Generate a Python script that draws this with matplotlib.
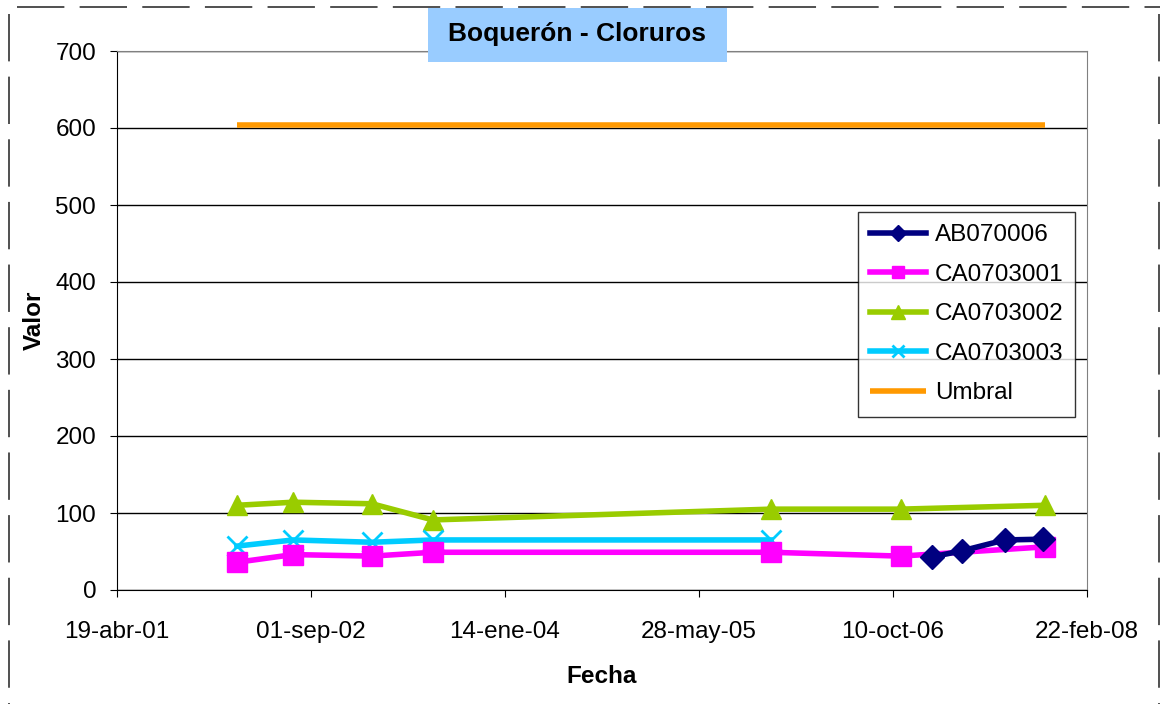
import pandas as pd
import matplotlib.pyplot as plt
from matplotlib.patches import Rectangle
from matplotlib.lines import Line2D

plt.rcParams['font.family'] = ['Liberation Sans', 'DejaVu Sans']

# fechas y valores
fechas_ab = ['2007-01-18', '2007-04-07', '2007-07-25', '2007-10-31']
valores_ab = [43, 51, 65, 66]

fechas_ca1 = ['2002-02-22', '2002-07-17', '2003-02-05', '2003-07-12', '2005-11-29', '2006-10-30', '2007-11-05']
valores_ca1 = [36, 46, 44, 49, 49, 44, 56]

fechas_ca2 = ['2002-02-22', '2002-07-17', '2003-02-05', '2003-07-12', '2005-11-29', '2006-10-30', '2007-11-05']
valores_ca2 = [110, 114, 112, 91, 105, 105, 110]

fechas_ca3 = ['2002-02-22', '2002-07-17', '2003-02-05', '2003-07-12', '2005-11-29']
valores_ca3 = [57, 65, 62, 65, 65]

fechas_umbral = ['2002-02-22', '2007-11-05']
valores_umbral = [604, 604]

tick_fechas = ['2001-04-19', '2002-09-01', '2004-01-14', '2005-05-28', '2006-10-10', '2008-02-22']
tick_labels = ['19-abr-01', '01-sep-02', '14-ene-04', '28-may-05', '10-oct-06', '22-feb-08']

W, H = 1162, 704
fig = plt.figure(figsize=(W / 100, H / 100), dpi=100)
ax = fig.add_axes([117 / W, 1 - 590 / H, 970 / W, 539 / H])

# borde discontinuo exterior (solo arriba, izquierda y derecha)
dash = (0, (31, 10))
for xs, ys in [([17, 1160], [7, 7]), ([9, 9], [14, 704]), ([1159, 1159], [14, 704])]:
    fig.lines.append(Line2D([x / W for x in xs], [1 - y / H for y in ys], transform=fig.transFigure,
                            color='#202020', lw=1.1, linestyle=dash))

ax.plot(pd.to_datetime(fechas_umbral), valores_umbral, color='#FF9900', lw=4,
        solid_capstyle='butt', label='Umbral', zorder=3)
ax.plot(pd.to_datetime(fechas_ca2), valores_ca2, color='#99CC00', lw=4, marker='^',
        markersize=15, label='CA0703002', zorder=4)
ax.plot(pd.to_datetime(fechas_ca3), valores_ca3, color='#00CCFF', lw=4, marker='x',
        markersize=14, markeredgewidth=2, label='CA0703003', zorder=4)
ax.plot(pd.to_datetime(fechas_ca1), valores_ca1, color='#FF00FF', lw=4, marker='s',
        markersize=14, label='CA0703001', zorder=5)
ax.plot(pd.to_datetime(fechas_ab), valores_ab, color='#000080', lw=4, marker='D',
        markersize=12, label='AB070006', zorder=6)

ax.set_xlim(pd.Timestamp(tick_fechas[0]), pd.Timestamp(tick_fechas[-1]))
ax.set_ylim(0, 700)
ax.set_yticks(range(0, 701, 100))
ax.set_xticks(pd.to_datetime(tick_fechas))
ax.set_xticklabels(tick_labels)
ax.tick_params(labelsize=17.5, direction='out', length=5, color='black')
ax.tick_params(axis='x', pad=17)
ax.tick_params(axis='y', pad=10)
ax.grid(axis='y', color='black', lw=1)
ax.set_axisbelow(True)
for s in ax.spines.values():
    s.set_color('#808080')
ax.spines['left'].set_color('black')
ax.spines['bottom'].set_color('black')

ax.set_xlabel('Fecha', fontsize=17.5, fontweight='bold', labelpad=16)
ax.set_ylabel('Valor', fontsize=17.5, fontweight='bold', labelpad=7)

# titulo con fondo azul
fig.patches.append(Rectangle((428 / W, 1 - 62 / H), 299 / W, 54 / H, transform=fig.transFigure,
                             facecolor='#99CCFF', edgecolor='none', zorder=5))
fig.text(577.5 / W, 1 - 34 / H, 'Boquerón - Cloruros', fontsize=19, fontweight='bold',
         ha='center', va='center', zorder=6)

handles, labels = ax.get_legend_handles_labels()
order = ['AB070006', 'CA0703001', 'CA0703002', 'CA0703003', 'Umbral']
hmap = dict(zip(labels, handles))
leg = ax.legend([hmap[k] for k in order], order, loc='upper left',
                bbox_to_anchor=(0.764, 0.701), fontsize=17.5, frameon=True, fancybox=False,
                edgecolor='black', handlelength=2.3, handletextpad=0.35, markerscale=0.65,
                labelspacing=0.72, borderpad=0.5, borderaxespad=0)
leg.get_frame().set_linewidth(1)

fig.savefig('out.png', dpi=100)
